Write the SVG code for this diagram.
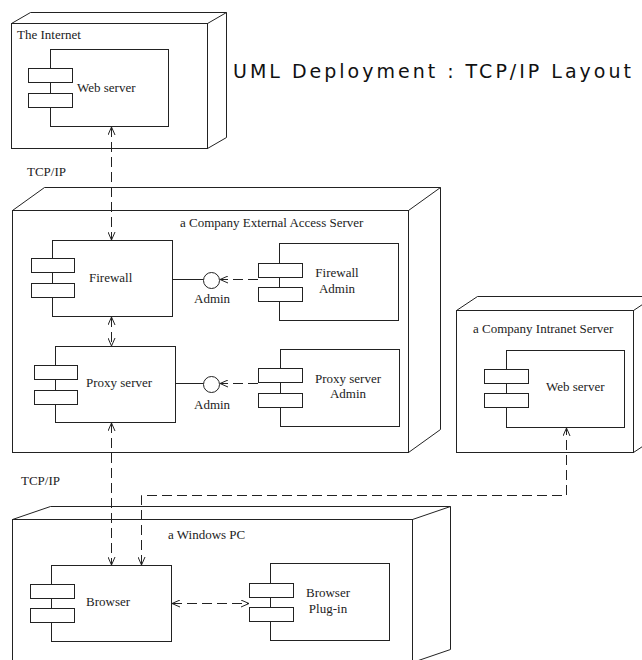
<svg xmlns="http://www.w3.org/2000/svg" width="642" height="660" viewBox="0 0 642 660">
  <style>
    .node { fill: #fff; stroke: #222; stroke-width: 1; }
    .face { fill: #fff; stroke: #222; stroke-width: 1; stroke-linejoin: miter; }
    .comp { fill: #fff; stroke: #222; stroke-width: 1; }
    .lbl { font-family: "Liberation Serif", "Times New Roman", serif; font-size: 13px; fill: #222; }
    .mid { text-anchor: middle; }
    .dash { fill: none; stroke: #222; stroke-width: 1; stroke-dasharray: 10 5; }
    .solid { fill: none; stroke: #222; stroke-width: 1; }
    .title { font-family: "DejaVu Sans", Verdana, sans-serif; font-size: 19px; letter-spacing: 3px; fill: #111; }
  </style>
  <defs>
    <marker id="open" viewBox="0 0 8 8" refX="8" refY="4" markerWidth="8" markerHeight="8" markerUnits="userSpaceOnUse" orient="auto-start-reverse">
      <path d="M0,0.5 L8,4 L0,7.5" fill="none" stroke="#222" stroke-width="1"/>
    </marker>
  </defs>

  <rect width="642" height="660" fill="#fff"/>

  <text class="title" x="233" y="78">UML Deployment : TCP/IP Layout</text>

  <!-- The Internet node -->
  <g id="node-internet">
    <path class="face" d="M11.5,23.5 L30.5,12.5 L226.5,12.5 L226.5,137.5 L207.5,148.5 M207.5,23.5 L226.5,12.5"/>
    <rect class="node" x="11.5" y="23.5" width="196" height="125"/>
    <text class="lbl" x="17" y="39">The Internet</text>
    <g id="comp-internet-web">
      <rect class="comp" x="50.5" y="49.5" width="118" height="77"/>
      <rect class="comp" x="28.5" y="68.5" width="44" height="14"/>
      <rect class="comp" x="28.5" y="93.5" width="44" height="14"/>
      <text class="lbl" x="77" y="92">Web server</text>
    </g>
  </g>

  <!-- External access server node -->
  <g id="node-external">
    <path class="face" d="M12.5,210.5 L44.5,187.5 L440.5,187.5 L440.5,429.5 L408.5,452.5 M408.5,210.5 L440.5,187.5"/>
    <rect class="node" x="12.5" y="210.5" width="396" height="242"/>
    <text class="lbl" x="180" y="227">a Company External Access Server</text>
    <g id="comp-firewall">
      <rect class="comp" x="52.5" y="240.5" width="120" height="76"/>
      <rect class="comp" x="31.5" y="258.5" width="43" height="14"/>
      <rect class="comp" x="31.5" y="283.5" width="43" height="14"/>
      <text class="lbl" x="89" y="282">Firewall</text>
    </g>
    <g id="comp-proxy">
      <rect class="comp" x="55.5" y="346.5" width="120" height="76"/>
      <rect class="comp" x="34.5" y="365.5" width="43" height="14"/>
      <rect class="comp" x="34.5" y="390.5" width="43" height="14"/>
      <text class="lbl" x="86" y="387">Proxy server</text>
    </g>
    <g id="comp-firewall-admin">
      <rect class="comp" x="279.5" y="243.5" width="119" height="77"/>
      <rect class="comp" x="258.5" y="263.5" width="44" height="14"/>
      <rect class="comp" x="258.5" y="287.5" width="44" height="14"/>
      <text class="lbl mid" x="337" y="277">Firewall</text>
      <text class="lbl mid" x="337" y="293">Admin</text>
    </g>
    <g id="comp-proxy-admin">
      <rect class="comp" x="280.5" y="349.5" width="119" height="77"/>
      <rect class="comp" x="258.5" y="368.5" width="44" height="14"/>
      <rect class="comp" x="258.5" y="393.5" width="44" height="14"/>
      <text class="lbl mid" x="348" y="383">Proxy server</text>
      <text class="lbl mid" x="348" y="398">Admin</text>
    </g>
    <g id="iface-firewall-admin">
      <line class="solid" x1="172.5" y1="279.5" x2="203.5" y2="279.5"/>
      <circle class="comp" cx="211.5" cy="280.5" r="8"/>
      <text class="lbl" x="194" y="303">Admin</text>
    </g>
    <g id="iface-proxy-admin">
      <line class="solid" x1="175.5" y1="383.5" x2="203.5" y2="383.5"/>
      <circle class="comp" cx="211.5" cy="384.5" r="8"/>
      <text class="lbl" x="194" y="409">Admin</text>
    </g>
  </g>

  <!-- Intranet server node -->
  <g id="node-intranet">
    <path class="face" d="M456.5,310.5 L477.5,296.5 L654.5,296.5 L654.5,438.5 L633.5,452.5 M633.5,310.5 L654.5,296.5"/>
    <rect class="node" x="456.5" y="310.5" width="177" height="142"/>
    <text class="lbl" x="473" y="333">a Company Intranet Server</text>
    <g id="comp-intranet-web">
      <rect class="comp" x="506.5" y="350.5" width="118" height="77"/>
      <rect class="comp" x="484.5" y="369.5" width="44" height="14"/>
      <rect class="comp" x="484.5" y="393.5" width="44" height="14"/>
      <text class="lbl" x="546" y="391">Web server</text>
    </g>
  </g>

  <!-- Windows PC node -->
  <g id="node-pc">
    <path class="face" d="M12.5,519.5 L50.5,506.5 L450.5,506.5 L450.5,649.5 L412.5,662.5 M412.5,519.5 L450.5,506.5"/>
    <rect class="node" x="12.5" y="519.5" width="400" height="143"/>
    <text class="lbl" x="168" y="539">a Windows PC</text>
    <g id="comp-browser">
      <rect class="comp" x="51.5" y="565.5" width="120" height="76"/>
      <rect class="comp" x="30.5" y="584.5" width="44" height="14"/>
      <rect class="comp" x="30.5" y="608.5" width="44" height="14"/>
      <text class="lbl" x="86" y="606">Browser</text>
    </g>
    <g id="comp-plugin">
      <rect class="comp" x="270.5" y="563.5" width="119" height="77"/>
      <rect class="comp" x="249.5" y="583.5" width="44" height="14"/>
      <rect class="comp" x="249.5" y="607.5" width="44" height="14"/>
      <text class="lbl mid" x="328" y="597">Browser</text>
      <text class="lbl mid" x="328" y="613">Plug-in</text>
    </g>
  </g>

  <!-- Protocol labels -->
  <text class="lbl" x="27" y="176">TCP/IP</text>
  <text class="lbl" x="21" y="485">TCP/IP</text>

  <!-- Connectors -->
  <g id="connectors">
    <line class="dash" x1="111.5" y1="127" x2="111.5" y2="240" marker-start="url(#open)" marker-end="url(#open)"/>
    <line class="dash" x1="111.5" y1="317" x2="111.5" y2="346" marker-start="url(#open)" marker-end="url(#open)"/>
    <line class="dash" x1="111.5" y1="423" x2="111.5" y2="565" marker-start="url(#open)" marker-end="url(#open)"/>
    <path class="dash" d="M141.5,565 L141.5,495.5 L566.5,495.5 L566.5,428" marker-start="url(#open)" marker-end="url(#open)"/>
    <line class="dash" x1="172" y1="603.5" x2="249" y2="603.5" marker-start="url(#open)" marker-end="url(#open)"/>
    <line class="dash" x1="258" y1="279.5" x2="220" y2="279.5" marker-end="url(#open)"/>
    <line class="dash" x1="258" y1="383.5" x2="220" y2="383.5" marker-end="url(#open)"/>
  </g>
</svg>
